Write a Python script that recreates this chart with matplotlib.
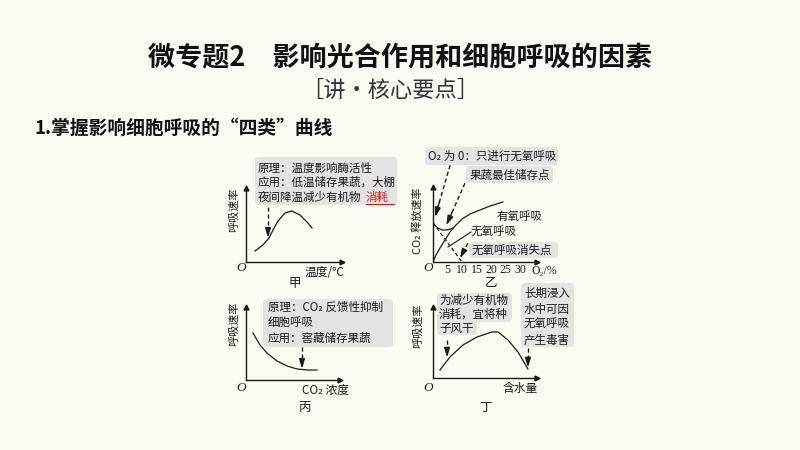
import matplotlib
matplotlib.use("Agg")
import matplotlib.pyplot as plt
from matplotlib.patches import FancyBboxPatch
from matplotlib.transforms import Affine2D
from matplotlib.lines import Line2D

plt.rcParams['font.family'] = ['Noto Sans CJK SC', 'DejaVu Sans']

# ---------------- data (schematic units) ----------------
# 甲: temperature vs respiration rate
temp_x = [0.94, 1.77, 2.40, 2.81, 3.33, 4.06, 4.79, 5.63, 6.35, 6.88]
temp_y = [1.49, 2.30, 3.24, 4.32, 5.54, 6.62, 6.89, 6.35, 5.41, 4.59]

# 乙: O2 concentration (%) vs CO2 release rate
o2_ticks = [5, 10, 15, 20, 25, 30]
aer_x = [0, 1.03, 2.41, 4.14, 5.86, 7.59, 10.0, 12.76, 16.2, 19.7, 24.1]
aer_y = [0, 0.93, 1.87, 2.93, 4.0, 4.8, 5.73, 6.4, 6.93, 7.47, 8.0]
total_x = [0, 1, 2, 3, 4, 5, 6, 7]
total_y = [5.2, 4.75, 4.45, 4.3, 4.25, 4.3, 4.4, 4.55]
anaer_x = [0, 5, 10]
anaer_y = [5.2, 2.6, 0]

# 丙: CO2 concentration vs respiration rate
co2_x = [0.74, 1.49, 2.23, 3.30, 4.36, 5.43, 6.49, 7.55]
co2_y = [6.44, 4.79, 3.70, 2.60, 1.92, 1.51, 1.37, 1.37]

# 丁: water content vs respiration rate
water_x = [0.67, 1.63, 2.88, 4.23, 5.67, 6.25, 7.21, 8.17, 9.13]
water_y = [1.13, 2.96, 4.65, 5.77, 6.48, 6.48, 5.35, 3.66, 1.27]

# ---------------- figure ----------------
W, H = 800, 450
BG = '#fbfbf4'
INK = '#1a1a1a'
BOXC = '#e3e3e3'
RED = '#e8141c'
fig = plt.figure(figsize=(8, 4.5), dpi=100, facecolor=BG)
PX = Affine2D().scale(1 / W, -1 / H).translate(0, 1) + fig.transFigure

SERIF = ['Liberation Serif', 'DejaVu Serif']
FS = 8.3


def T(x, y, s, **kw):
    kw.setdefault('color', INK)
    kw.setdefault('va', 'center')
    kw.setdefault('fontsize', FS)
    return fig.text(x, y, s, transform=PX, **kw)


def box(x0, y0, x1, y1):
    p = FancyBboxPatch((x0, y0), x1 - x0, y1 - y0,
                       boxstyle='round,pad=0,rounding_size=4',
                       transform=PX, fc=BOXC, ec='none', zorder=1)
    fig.add_artist(p)


def make_ax(l, t, r, b, xmax, ymax):
    ax = fig.add_axes([l / W, 1 - b / H, (r - l) / W, (b - t) / H])
    ax.set_xlim(0, xmax)
    ax.set_ylim(0, ymax)
    ax.patch.set_alpha(0)
    for s in ['top', 'right']:
        ax.spines[s].set_visible(False)
    for s in ['left', 'bottom']:
        ax.spines[s].set_linewidth(1.0)
        ax.spines[s].set_color(INK)
    ax.set_xticks([])
    ax.set_yticks([])
    ax.plot([1], [0], marker='>', ms=3.5, color=INK, transform=ax.transAxes, clip_on=False)
    ax.plot([0], [1], marker='^', ms=3.5, color=INK, transform=ax.transAxes, clip_on=False)
    ax.set_zorder(2)
    return ax


def darrow(ax, x0, y0, x1, y1):
    ax.plot([x0, x0 + (x1 - x0) * 0.8], [y0, y0 + (y1 - y0) * 0.8],
            ls=(0, (3, 2)), lw=1.0, color=INK, clip_on=False)
    ax.annotate('', xy=(x1, y1), xytext=(x0 + (x1 - x0) * 0.7, y0 + (y1 - y0) * 0.7),
                arrowprops=dict(arrowstyle='-|>,head_width=0.17,head_length=0.55',
                                color=INK, lw=1.0, shrinkA=0, shrinkB=0),
                annotation_clip=False)


# ---------------- headings ----------------
T(400, 57, '微专题2\u3000影响光合作用和细胞呼吸的因素', fontsize=19.5,
  fontweight='bold', ha='center', color='#111111')
T(390, 90, '［讲・核心要点］', fontsize=16, ha='center', color='#333333')
T(34, 128, '1.掌握影响细胞呼吸的“四类”曲线', fontsize=13.5,
  fontweight='bold', ha='left', color='#111111')

# ---------------- 甲 ----------------
axA = make_ax(246, 188, 342, 262, 10, 10)
axA.plot(temp_x, temp_y, color=INK, lw=0.9)
darrow(axA, 2.29, 7.43, 2.29, 3.3)
box(255, 157, 397, 205)
T(258, 168, '原理：温度影响酶活性')
T(258, 182, '应用：低温储存果蔬，大棚')
T(258, 197, '夜间降温减少有机物')
T(366, 197, '消耗', color=RED)
fig.add_artist(Line2D([366, 394], [204, 204], transform=PX, color=RED, lw=0.8))
T(234, 210, '呼吸速率', rotation=90, ha='center', fontsize=8)
T(241, 268, 'O', family=SERIF, style='italic', fontsize=9.5, ha='center')
T(324, 272, '温度/℃', ha='center', fontsize=8.5)
T(295, 283, '甲', ha='center', fontsize=9)

# ---------------- 乙 ----------------
axB = make_ax(433, 187, 537, 262, 35.86, 10)
axB.plot(aer_x, aer_y, color=INK, lw=0.9)
axB.plot(total_x, total_y, color=INK, lw=0.9)
axB.plot(anaer_x, anaer_y, color=INK, lw=0.9, ls=(0, (3, 2)))
axB.set_xticks(o2_ticks)
axB.set_xticklabels([str(v) for v in o2_ticks], family=SERIF, fontsize=8.5)
axB.tick_params(axis='x', length=0, pad=1.5, colors=INK)
darrow(axB, 5.9, 12.9, 0.7, 6.0)
darrow(axB, 11.0, 10.5, 4.6, 4.9)
darrow(axB, 12.0, 2.5, 9.3, 0.5)
axB.plot([13.1, 5.2], [4.0, 2.0], color=INK, lw=0.8, clip_on=False)
box(425, 147, 558, 165)
T(428, 156, 'O₂ 为 0：只进行无氧呼吸')
box(466, 166, 553, 183)
T(470, 175, '果蔬最佳储存点')
box(469, 242, 558, 258)
T(472, 250, '无氧呼吸消失点')
T(497, 216, '有氧呼吸')
T(471, 232, '无氧呼吸')
T(418, 221, 'CO₂ 释放速率', rotation=90, ha='center', fontsize=8)
T(428, 268, 'O', family=SERIF, style='italic', fontsize=9.5, ha='center')
T(544, 271, 'O₂/%', family=SERIF, ha='center', fontsize=8.5)
T(491, 283, '乙', ha='center', fontsize=9)

# ---------------- 丙 ----------------
axC = make_ax(246, 307, 340, 380, 10, 10)
axC.plot(co2_x, co2_y, color=INK, lw=0.9)
darrow(axC, 5.96, 4.5, 5.96, 1.55)
box(263, 299, 393, 347)
T(268, 307, '原理：CO₂ 反馈性抑制')
T(268, 322, '细胞呼吸')
T(268, 338, '应用：窖藏储存果蔬')
T(234, 324, '呼吸速率', rotation=90, ha='center', fontsize=8)
T(241, 388, 'O', family=SERIF, style='italic', fontsize=9.5, ha='center')
T(326, 390, 'CO₂ 浓度', ha='center', fontsize=8.5)
T(304, 408, '丙', ha='center', fontsize=9)

# ---------------- 丁 ----------------
axD = make_ax(433, 307, 537, 378, 10, 10)
axD.plot(water_x, water_y, color=INK, lw=0.9)
darrow(axD, 1.35, 5.35, 1.35, 2.9)
darrow(axD, 9.13, 4.23, 9.13, 1.5)
box(437, 293, 512, 322)
box(437, 310, 477, 335)
T(439, 300, '为减少有机物')
T(439, 314, '消耗，宜将种')
T(439, 328, '子风干')
box(521, 283, 574, 347)
T(524, 293, '长期浸入')
T(524, 309, '水中可因')
T(524, 324, '无氧呼吸')
T(524, 340, '产生毒害')
T(418, 326, '呼吸速率', rotation=90, ha='center', fontsize=8)
T(428, 388, 'O', family=SERIF, style='italic', fontsize=9.5, ha='center')
T(520, 388, '含水量', ha='center', fontsize=8.5)
T(486, 407, '丁', ha='center', fontsize=9)

fig.savefig('out.png', dpi=100, facecolor=BG)
